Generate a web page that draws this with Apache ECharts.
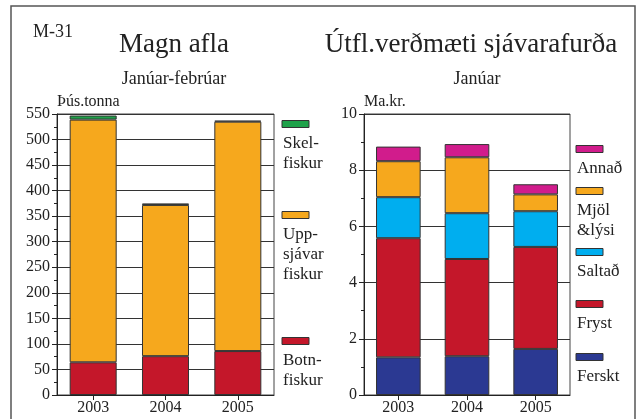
<!DOCTYPE html>
<html>
<head>
<meta charset="utf-8">
<script src="https://cdn.jsdelivr.net/npm/echarts@6/dist/echarts.min.js"></script>
<style>
  html, body { margin: 0; padding: 0; background: #fff; }
  #chart { width: 638px; height: 419px; }
</style>
</head>
<body>
<div id="chart"></div>
<script>
// Magn afla, janúar-febrúar (þús. tonna)
const years = ['2003', '2004', '2005'];
const botnfiskur = [64, 76, 86];
const uppsjavarfiskur = [475, 296, 449];
const skelfiskur = [8, 3, 2];

// Útflutningsverðmæti sjávarafurða, janúar (ma.kr.)
const ferskt = [1.34, 1.38, 1.64];
const fryst = [4.24, 3.46, 3.63];
const saltad = [1.46, 1.63, 1.27];
const mjol = [1.28, 1.99, 0.60];
const annad = [0.52, 0.47, 0.36];

const colors = {
  green: '#1fa24a',
  orange: '#f6a81d',
  red: '#c4172a',
  cyan: '#00aeef',
  magenta: '#d11c8c',
  navy: '#2b3992'
};

const font = 'Liberation Serif';
const ink = '#222';

const chart = echarts.init(document.getElementById('chart'));

const barStyle = (color) => ({ color: color, borderColor: '#333', borderWidth: 1 });

const mkBar = (name, data, color, gridIdx, stack) => ({
  name: name,
  type: 'bar',
  stack: stack,
  xAxisIndex: gridIdx,
  yAxisIndex: gridIdx,
  barWidth: '65%',
  data: data,
  itemStyle: barStyle(color),
  emphasis: { disabled: true }
});

// legend entries drawn as graphics: swatch + lines of text
const leftLegend = [
  { lines: ['Skel-', 'fiskur'], color: colors.green, y: 124 },
  { lines: ['Upp-', 'sjávar', 'fiskur'], color: colors.orange, y: 215 },
  { lines: ['Botn-', 'fiskur'], color: colors.red, y: 341 }
];
const rightLegend = [
  { lines: ['Annað'], color: colors.magenta, y: 149 },
  { lines: ['Mjöl', '&lýsi'], color: colors.orange, y: 191 },
  { lines: ['Saltað'], color: colors.cyan, y: 252 },
  { lines: ['Fryst'], color: colors.red, y: 304 },
  { lines: ['Ferskt'], color: colors.navy, y: 357 }
];

const legendGraphics = (items, x) => {
  const out = [];
  items.forEach(it => {
    out.push({
      type: 'rect',
      shape: { x: x, y: it.y - 3.5, width: 27, height: 7 },
      style: { fill: it.color, stroke: '#333', lineWidth: 1 }
    });
    it.lines.forEach((ln, i) => {
      out.push({
        type: 'text',
        x: x + 1,
        y: it.y + 20 + i * 20,
        style: { text: ln, font: '17px ' + font, fill: ink, textVerticalAlign: 'middle' }
      });
    });
  });
  return out;
};

const labelStyle = { color: ink, fontFamily: font, fontSize: 16, margin: 7 };
const nameStyle = { color: ink, fontFamily: font, fontSize: 16, align: 'left', verticalAlign: 'middle' };

const yAxisBase = {
  type: 'value',
  axisLine: { show: true, lineStyle: { color: ink, width: 1 } },
  axisTick: { show: true, length: 5, lineStyle: { color: ink } },
  minorTick: { show: true, splitNumber: 2, length: 3, lineStyle: { color: ink } },
  axisLabel: labelStyle,
  splitLine: { show: true, lineStyle: { color: '#333', width: 1 } },
  nameLocation: 'end',
  nameGap: 12,
  nameTextStyle: nameStyle
};

const xAxisBase = {
  type: 'category',
  data: years,
  axisLine: { show: true, lineStyle: { color: ink, width: 1 } },
  axisTick: { show: true, alignWithLabel: true, length: 5, lineStyle: { color: ink } },
  axisLabel: { color: ink, fontFamily: font, fontSize: 16, margin: 5 },
  splitLine: { show: false }
};

const option = {
  animation: false,
  backgroundColor: '#fff',
  textStyle: { fontFamily: font },
  grid: [
    { left: 57, top: 114, width: 217, height: 281, show: true, borderColor: '#444', borderWidth: 1, backgroundColor: 'transparent' },
    { left: 364, top: 114, width: 206, height: 281, show: true, borderColor: '#444', borderWidth: 1, backgroundColor: 'transparent' }
  ],
  xAxis: [
    Object.assign({}, xAxisBase, { gridIndex: 0 }),
    Object.assign({}, xAxisBase, { gridIndex: 1 })
  ],
  yAxis: [
    Object.assign({}, yAxisBase, { gridIndex: 0, min: 0, max: 550, interval: 50, name: 'Þús.tonna' }),
    Object.assign({}, yAxisBase, { gridIndex: 1, min: 0, max: 10, interval: 2, name: 'Ma.kr.' })
  ],
  series: [
    mkBar('Botnfiskur', botnfiskur, colors.red, 0, 'afli'),
    mkBar('Uppsjávarfiskur', uppsjavarfiskur, colors.orange, 0, 'afli'),
    mkBar('Skelfiskur', skelfiskur, colors.green, 0, 'afli'),
    mkBar('Ferskt', ferskt, colors.navy, 1, 'verd'),
    mkBar('Fryst', fryst, colors.red, 1, 'verd'),
    mkBar('Saltað', saltad, colors.cyan, 1, 'verd'),
    mkBar('Mjöl & lýsi', mjol, colors.orange, 1, 'verd'),
    mkBar('Annað', annad, colors.magenta, 1, 'verd')
  ],
  graphic: [
    {
      type: 'rect',
      shape: { x: 11, y: 6, width: 624, height: 440 },
      style: { fill: 'none', stroke: '#555', lineWidth: 1.5 }
    },
    { type: 'text', x: 33, y: 32, style: { text: 'M-31', font: '18px ' + font, fill: ink, textVerticalAlign: 'middle' } },
    { type: 'text', x: 174, y: 45, style: { text: 'Magn afla', font: '27px ' + font, fill: ink, textAlign: 'center', textVerticalAlign: 'middle' } },
    { type: 'text', x: 174, y: 79, style: { text: 'Janúar-febrúar', font: '18px ' + font, fill: ink, textAlign: 'center', textVerticalAlign: 'middle' } },
    { type: 'text', x: 471, y: 45, style: { text: 'Útfl.verðmæti sjávarafurða', font: '27px ' + font, fill: ink, textAlign: 'center', textVerticalAlign: 'middle' } },
    { type: 'text', x: 477, y: 79, style: { text: 'Janúar', font: '18px ' + font, fill: ink, textAlign: 'center', textVerticalAlign: 'middle' } }
  ].concat(legendGraphics(leftLegend, 282), legendGraphics(rightLegend, 576))
};

chart.setOption(option);
</script>
</body>
</html>
